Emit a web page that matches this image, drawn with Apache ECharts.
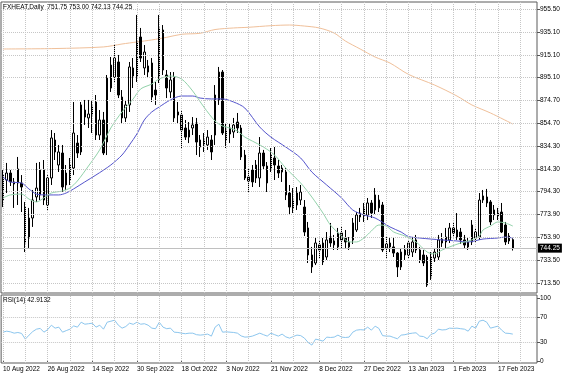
<!DOCTYPE html>
<html><head><meta charset="utf-8">
<script src="https://cdn.jsdelivr.net/npm/echarts@6/dist/echarts.min.js"></script>
<style>html,body{margin:0;padding:0;background:#fff}#c{width:564px;height:376px}</style>
</head><body><div id="c"></div>
<script>
const SYMBOL = 'FXHEAT';
const TIMEFRAME = 'Daily';
const START_DATE = '2022-08-10';
const HOLIDAYS = ['2022-09-05','2022-12-26','2023-01-02','2023-01-16','2023-02-20'];
const SLOTS = 144;
const LABEL_DATES = ['10 Aug 2022','26 Aug 2022','14 Sep 2022','30 Sep 2022','18 Oct 2022','3 Nov 2022','21 Nov 2022','8 Dec 2022','27 Dec 2022','13 Jan 2023','1 Feb 2023','17 Feb 2023'];
const MID_GRID_DATES = ['18 Aug 2022','6 Sep 2022','22 Sep 2022','10 Oct 2022','26 Oct 2022','11 Nov 2022','29 Nov 2022','16 Dec 2022','5 Jan 2023','24 Jan 2023','9 Feb 2023','28 Feb 2023'];
const PRICE_TICKS = [955.50,935.10,915.10,895.10,874.70,854.70,834.30,814.30,794.30,773.90,753.90,733.50,713.50];
const RSI_TICKS = [100,70,30,0];
const RSI_LEVELS = [70,30];

const OPEN = [808.9,804.5,810.7,802.8,814.3,801.9,780.6,753.2,770.9,789.5,
791.3,813.4,782.4,806.3,839.9,817.8,828.4,800.1,804.5,815.1,
837.2,829.3,866.4,859.4,862.0,873.5,844.3,857.6,838.1,885.9,
895.6,908.9,877.9,859.4,870.9,903.6,894.7,931.0,903.6,905.4,
908.0,884.1,893.0,937.2,897.4,882.4,895.6,864.7,862.0,850.5,
842.5,850.5,854.9,839.9,835.5,835.5,839.9,844.3,875.3,900.0,
839.9,850.5,847.0,855.8,850.5,826.6,807.2,813.4,806.3,806.3,
828.4,816.9,813.4,824.0,816.9,811.6,811.6,793.0,779.8,782.4,
786.8,780.6,762.1,738.2,731.1,747.1,748.8,736.4,754.1,747.1,
745.3,757.6,753.2,745.3,751.5,760.3,771.8,779.8,773.6,784.2,
778.0,779.8,782.4,744.4,748.8,745.3,739.9,727.6,738.2,738.2,
740.8,742.6,742.6,738.2,736.4,718.7,735.5,736.4,752.3,749.7,
751.5,762.1,754.1,758.5,751.5,749.7,749.7,753.2,754.1,786.8,
789.5,785.1,778.0,776.2,776.2,764.7,755.0,751.75];
const CLOSE = [786.8,810.7,802.8,801.0,801.9,798.3,748.8,770.9,786.8,797.4,
813.4,786.8,806.3,841.7,829.3,829.3,798.3,810.7,817.8,846.1,
828.4,870.9,860.2,862.9,870.0,844.3,857.6,828.4,894.7,906.2,
912.4,879.7,859.4,870.9,904.5,896.5,926.6,912.4,917.7,900.0,
877.9,879.7,939.0,901.8,885.9,893.0,859.4,862.0,848.7,842.5,
848.7,853.2,838.1,833.7,839.9,842.5,829.3,879.7,900.0,846.1,
848.7,845.2,853.2,850.5,824.9,806.3,803.6,802.8,817.8,828.4,
816.9,801.9,826.6,817.8,810.7,815.1,791.3,780.6,786.8,793.0,
793.9,758.5,738.2,727.6,748.8,742.6,732.0,751.5,748.8,750.6,
757.6,751.5,749.7,749.7,766.5,773.6,775.3,772.7,784.2,775.3,
791.3,786.8,742.6,747.9,745.3,739.9,727.6,740.8,742.6,748.8,
749.7,751.5,733.8,731.1,711.6,736.4,740.8,751.5,748.8,754.1,
762.1,757.6,760.3,751.5,747.0,745.3,764.7,758.5,786.8,790.4,
784.2,767.4,773.6,772.7,758.5,749.7,750.6,744.25];
const LOW = [780.6,793.0,799.2,779.8,782.4,776.2,740.8,744.4,763.0,785.1,
786.8,782.4,778.0,800.1,822.2,811.6,793.9,795.7,800.1,808.9,
824.0,826.6,853.2,850.5,846.1,839.9,839.9,826.6,826.6,882.4,
890.3,877.0,854.9,855.8,864.7,885.9,891.2,908.9,897.4,894.7,
873.5,870.9,890.3,897.4,877.0,877.0,855.8,854.9,832.8,839.9,
837.2,844.3,826.6,824.9,829.3,831.1,822.2,835.5,870.9,844.3,
832.8,837.2,841.7,846.1,822.2,804.5,793.9,798.3,801.9,798.3,
813.4,793.9,811.6,804.5,806.3,802.8,786.8,773.6,775.3,778.0,
782.4,755.0,731.1,722.3,729.3,735.5,729.3,733.8,745.3,742.6,
742.6,744.4,744.4,742.6,747.9,758.5,767.4,767.4,769.1,770.9,
774.4,776.2,740.8,735.5,740.8,736.4,718.7,724.9,733.8,735.5,
736.4,739.9,731.1,728.4,709.9,716.1,732.0,733.8,745.3,744.4,
748.8,753.2,751.5,747.9,744.4,742.6,747.0,749.7,751.5,784.2,
780.6,764.7,769.1,769.1,757.6,747.0,747.9,742.13];
const HIGH = [813.4,819.6,813.4,806.3,824.9,808.9,785.1,779.8,795.7,819.6,
820.4,822.2,808.9,848.7,846.1,835.5,835.5,817.8,824.0,873.5,
844.3,873.5,875.3,875.3,875.3,879.7,866.4,864.7,897.4,913.3,
923.9,915.1,884.1,875.3,908.9,912.4,950.5,939.0,923.9,910.7,
912.4,891.2,950.5,941.6,901.8,900.0,900.0,873.5,866.4,857.6,
855.8,860.2,859.4,844.3,846.1,848.7,844.3,888.5,904.5,901.8,
854.9,854.9,859.4,863.8,853.2,831.1,815.1,817.8,822.2,842.5,
831.1,820.4,832.8,833.7,822.2,817.8,815.1,800.1,797.4,798.3,
800.1,786.8,767.4,745.3,754.1,751.5,753.2,758.5,766.5,755.9,
762.1,763.0,760.3,754.1,770.9,776.2,779.8,784.2,788.6,786.8,
797.4,791.3,785.1,754.1,753.2,754.1,740.8,744.4,747.0,751.5,
754.1,755.9,745.3,742.6,738.2,740.8,744.4,755.9,757.6,762.1,
766.5,767.4,775.3,762.1,755.9,754.1,769.1,762.1,793.0,795.7,
796.6,786.8,782.4,779.8,784.2,767.4,757.6,753.00];
const RSI = [46.0,47.6,46.5,44.4,45.5,44.0,34.9,41.3,47.0,50.8,
52.0,46.0,50.0,57.1,52.4,54.0,46.0,48.5,50.8,56.0,
54.0,61.9,58.7,59.5,60.3,54.0,57.1,50.8,61.9,63.5,
65.1,57.1,52.4,55.0,60.3,58.5,61.9,58.7,59.5,57.1,
52.4,51.5,61.9,54.0,51.5,52.4,46.0,45.5,44.4,43.5,
44.4,44.4,42.0,41.3,42.0,42.9,39.7,54.0,58.7,46.0,
46.5,46.0,45.5,44.4,40.0,38.1,38.5,39.7,42.0,44.4,
42.0,39.7,44.4,42.0,39.7,42.9,38.5,36.5,39.0,41.3,
40.5,36.5,29.5,25.4,34.9,33.5,31.7,38.1,37.5,38.1,
41.3,38.1,37.5,38.1,46.0,49.2,50.0,49.5,54.0,49.2,
55.6,52.0,40.5,39.7,39.7,37.5,35.5,41.3,42.0,43.5,
44.4,45.0,39.7,39.0,35.5,42.5,44.4,50.8,49.5,50.0,
52.4,52.0,52.4,51.5,50.8,47.6,55.6,52.4,63.5,65.1,
61.9,52.4,54.0,55.6,49.2,44.4,44.0,42.9132];
// moving averages: [bar index, value]
const GREEN_MA = [[0,788.6],[2,791.3],[5,792.1],[7,787.7],[9,785.1],[11,788.6],[13,793.0],[16,794.8],[18,797.4],[20,803.6],[23,816.9],[26,831.1],[29,850.5],[32,864.7],[35,876.2],[37,885.0],[40,889.4],[42,893.9],[45,896.5],[48,893.9],[51,883.2],[54,869.1],[57,856.7],[59,852.3],[61,850.5],[63,847.9],[65,842.5],[67,839.0],[70,833.7],[73,826.6],[76,815.1],[80,801.9],[83,789.5],[86,775.3],[88,764.7],[91,755.0],[93,749.7],[95,749.7],[97,753.2],[99,759.4],[101,764.7],[103,763.8],[105,758.5],[108,755.0],[111,749.7],[114,740.8],[116,739.1],[118,742.6],[120,745.3],[123,748.8],[126,751.5],[128,755.0],[129,760.3],[131,763.8],[133,767.4],[135,766.5],[137,763.8]];
const BLUE_MA = [[0,807.2],[2,802.8],[5,801.9],[7,796.6],[9,792.1],[12,791.3],[15,791.3],[17,793.0],[19,796.6],[22,802.8],[25,808.9],[29,817.8],[32,826.6],[34,835.5],[36,845.2],[38,857.6],[40,864.7],[42,869.1],[45,875.3],[48,878.8],[51,878.8],[53,877.0],[56,876.2],[59,876.2],[62,873.5],[65,868.2],[69,851.4],[72,842.5],[76,833.7],[80,824.0],[83,811.6],[87,800.1],[91,788.6],[94,778.0],[97,773.6],[100,770.9],[104,763.0],[107,758.5],[109,754.5],[112,753.2],[115,752.3],[118,751.5],[122,750.6],[125,749.7],[129,752.3],[133,753.2],[135,754.1],[137,753.2]];
const TAN_MA = [[0,920.4],[14,920.8],[27,922.2],[32,924.8],[36,926.6],[40,928.4],[44,930.7],[48,933.4],[53,934.3],[57,937.6],[62,939.0],[66,939.6],[72,941.0],[77,941.6],[81,940.7],[85,939.0],[89,934.5],[92,927.5],[96,920.4],[100,913.3],[104,908.0],[109,897.9],[116,888.5],[122,878.8],[126,870.9],[131,863.8],[137,854.0]];

const MONTHS = ['Jan','Feb','Mar','Apr','May','Jun','Jul','Aug','Sep','Oct','Nov','Dec'];
function buildDates(){
  const out = [];
  const d = new Date(START_DATE + 'T00:00:00Z');
  while (out.length < SLOTS) {
    const wd = d.getUTCDay();
    const iso = d.toISOString().slice(0,10);
    if (wd !== 0 && wd !== 6 && HOLIDAYS.indexOf(iso) < 0) {
      out.push(d.getUTCDate() + ' ' + MONTHS[d.getUTCMonth()] + ' ' + d.getUTCFullYear());
    }
    d.setUTCDate(d.getUTCDate() + 1);
  }
  return out;
}
const CATS = buildDates();
const last = OPEN.length - 1;
const candleData = OPEN.map((o,i)=>[o, CLOSE[i], LOW[i], HIGH[i]]);
const FONT = '"Liberation Sans", Arial, sans-serif';
const labelSet = new Set(LABEL_DATES);
const vGrid = LABEL_DATES.concat(MID_GRID_DATES).map(d=>({xAxis: CATS.indexOf(d)}));
const dotted = {type:'dotted', color:'#c6c6c6', width:1};
const fmt = v => v.toFixed(2);
const gridLineBase = {silent:true, symbol:['none','none'], label:{show:false}, lineStyle:dotted, animation:false};

const chart = echarts.init(document.getElementById('c'), null, {renderer:'canvas', width:564, height:376});
chart.setOption({
  animation:false,
  backgroundColor:'#ffffff',
  title:[
    {text: SYMBOL + ',' + TIMEFRAME + '  ' + fmt(OPEN[last]) + ' ' + fmt(HIGH[last]) + ' ' + fmt(LOW[last]) + ' ' + fmt(CLOSE[last]),
     left:3, top:4, padding:0, textStyle:{fontSize:6.5, fontWeight:'normal', color:'#000', fontFamily:FONT}},
    {text: 'RSI(14) ' + RSI[last].toFixed(4), left:3, top:297, padding:0,
     textStyle:{fontSize:6.5, fontWeight:'normal', color:'#000', fontFamily:FONT}}
  ],
  grid:[
    {left:1, right:27, top:2, height:291, show:true, borderColor:'#5a5a5a', borderWidth:1},
    {left:1, right:27, top:295, height:68, show:true, borderColor:'#5a5a5a', borderWidth:1}
  ],
  xAxis:[
    {type:'category', gridIndex:0, data:CATS, boundaryGap:true, axisLine:{show:false}, axisTick:{show:false}, axisLabel:{show:false}, splitLine:{show:false}},
    {type:'category', gridIndex:1, data:CATS, boundaryGap:true, axisLine:{show:false},
     axisTick:{show:true, alignWithLabel:true, interval:(i,v)=>labelSet.has(v), length:2, lineStyle:{color:'#555'}},
     axisLabel:{interval:(i,v)=>labelSet.has(v), align:'left', fontSize:6.5, color:'#000', fontFamily:FONT, margin:3},
     splitLine:{show:false}}
  ],
  yAxis:[
    {type:'value', gridIndex:0, position:'right', min:704.57, max:961.96, scale:true,
     axisLine:{show:false},
     axisTick:{show:true, customValues:PRICE_TICKS, length:3, lineStyle:{color:'#555'}},
     axisLabel:{customValues:PRICE_TICKS, formatter:v=>fmt(v), fontSize:6.5, color:'#000', fontFamily:FONT, margin:3},
     splitLine:{show:false}},
    {type:'value', gridIndex:1, position:'right', min:-3.2, max:105.3,
     axisLine:{show:false},
     axisTick:{show:true, customValues:RSI_TICKS, length:3, lineStyle:{color:'#555'}},
     axisLabel:{customValues:RSI_TICKS, formatter:v=>String(Math.round(v)), fontSize:6.5, color:'#000', fontFamily:FONT, margin:3},
     splitLine:{show:false}}
  ],
  series:[
    {type:'line', name:'MA slow', xAxisIndex:0, yAxisIndex:0, data:TAN_MA, showSymbol:false, smooth:0.3, z:1,
     lineStyle:{color:'#f0c09a', width:1},
     markLine:Object.assign({}, gridLineBase, {data: PRICE_TICKS.map(v=>({yAxis:v})).concat(vGrid)})},
    {type:'candlestick', name:SYMBOL, xAxisIndex:0, yAxisIndex:0, data:candleData, barWidth:2, z:3,
     itemStyle:{color:'#ffffff', color0:'#000000', borderColor:'#000000', borderColor0:'#000000', borderWidth:1},
     markLine:{silent:true, symbol:['none','none'], animation:false,
       lineStyle:{type:'solid', color:'#c0c0c0', width:1},
       label:{show:true, position:'end', formatter:()=>fmt(CLOSE[last]), backgroundColor:'#000', color:'#fff', fontSize:6.5, fontFamily:FONT, padding:[1,2,1,2], distance:1},
       data:[{yAxis:CLOSE[last]}]}},
    {type:'line', name:'MA mid', xAxisIndex:0, yAxisIndex:0, data:BLUE_MA, showSymbol:false, smooth:0.3, z:4,
     lineStyle:{color:'#5454cc', width:1}},
    {type:'line', name:'MA fast', xAxisIndex:0, yAxisIndex:0, data:GREEN_MA, showSymbol:false, smooth:0.3, z:4,
     lineStyle:{color:'#92d2aa', width:1}},
    {type:'line', name:'RSI(14)', xAxisIndex:1, yAxisIndex:1, data:RSI, showSymbol:false, z:2,
     lineStyle:{color:'#8cc6ee', width:1},
     markLine:Object.assign({}, gridLineBase, {data: RSI_LEVELS.map(v=>({yAxis:v})).concat(vGrid)})}
  ]
});
</script></body></html>
